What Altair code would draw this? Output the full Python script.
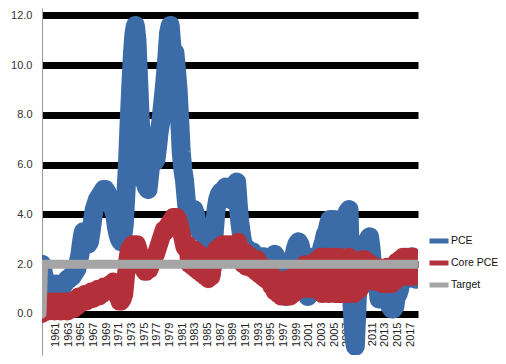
import altair as alt
import pandas as pd

# Quarterly points, starting 1960 Q1 (Jan, Apr, Jul, Oct)
START_YEAR = 1960
pce = [
    2.0, 1.6, 1.4, 1.3,   # 1960
    1.1, 1.0, 1.0, 1.0,   # 1961
    1.1, 1.2, 1.1, 1.1,   # 1962
    1.1, 1.1, 1.2, 1.3,   # 1963
    1.4, 1.4, 1.5, 1.5,   # 1964
    1.6, 1.7, 1.8, 2.1,   # 1965
    2.4, 2.9, 3.3, 3.3,   # 1966
    3.0, 2.8, 2.9, 3.3,   # 1967
    3.8, 4.2, 4.4, 4.6,   # 1968
    4.7, 4.8, 4.9, 5.0,   # 1969
    5.0, 4.9, 4.7, 4.5,   # 1970
    4.4, 4.2, 4.0, 3.5,   # 1971
    3.2, 3.0, 2.9, 3.1,   # 1972
    3.6, 4.8, 6.0, 7.6,   # 1973
    9.0, 10.3, 11.2, 11.6,  # 1974
    11.0, 9.5, 7.9, 6.8,  # 1975
    5.8, 5.3, 5.1, 5.0,   # 1976
    5.6, 6.2, 6.3, 6.1,   # 1977
    6.2, 6.7, 7.3, 7.7,   # 1978
    8.3, 8.9, 9.6, 10.4,  # 1979
    11.3, 11.6, 10.8, 10.3,  # 1980
    10.5, 9.8, 9.0, 7.8,  # 1981
    6.5, 5.8, 5.4, 4.7,   # 1982
    4.0, 3.7, 3.8, 3.9,   # 1983
    4.2, 4.0, 3.6, 3.4,   # 1984
    3.3, 3.4, 3.4, 3.5,   # 1985
    2.8, 2.1, 1.7, 1.6,   # 1986
    2.3, 3.4, 4.2, 4.6,   # 1987
    4.8, 4.9, 4.9, 5.0,   # 1988
    5.1, 5.0, 4.7, 4.6,   # 1989
    4.8, 5.0, 5.2, 5.3,   # 1990
    4.4, 3.7, 3.2, 2.8,   # 1991
    2.7, 2.6, 2.6, 2.5,   # 1992
    2.5, 2.5, 2.3, 2.2,   # 1993
    2.0, 2.1, 2.3, 2.3,   # 1994
    2.3, 2.2, 2.1, 2.0,   # 1995
    2.0, 2.2, 2.3, 2.4,   # 1996
    2.3, 1.9, 1.5, 1.3,   # 1997
    0.9, 0.8, 0.7, 0.8,   # 1998
    1.2, 1.6, 2.0, 2.2,   # 1999
    2.6, 2.8, 2.9, 2.8,   # 2000
    2.5, 2.0, 1.5, 0.9,   # 2001
    0.7, 0.8, 1.3, 1.8,   # 2002
    2.3, 2.0, 2.0, 2.2,   # 2003
    2.4, 2.7, 2.9, 3.2,   # 2004
    3.3, 3.6, 3.8, 3.8,   # 2005
    3.7, 3.8, 3.5, 2.0,   # 2006
    2.0, 2.4, 2.6, 3.6,   # 2007
    3.9, 4.1, 4.2, 1.8,   # 2008
    0.3, -0.8, -1.3, 0.2,  # 2009
    2.0, 1.8, 1.4, 1.2,   # 2010
    1.5, 2.4, 3.0, 3.1,   # 2011
    2.6, 1.8, 1.4, 1.6,   # 2012
    1.2, 0.6, 0.9, 1.0,   # 2013
    1.2, 1.6, 1.6, 1.2,   # 2014
    0.3, 0.2, 0.2, 0.3,   # 2015
    0.8, 0.8, 1.0, 1.5,   # 2016
    2.1, 1.6, 1.4, 1.6,   # 2017
    1.9, 2.2, 2.3, 1.9,   # 2018
    1.4, 1.4,             # 2019
]
core_pce = [
    0.0, 0.5, 0.2, 0.5,   # 1960
    0.1, 0.5, 0.2, 0.5,   # 1961
    0.1, 0.5, 0.3, 0.5,   # 1962
    0.1, 0.5, 0.2, 0.5,   # 1963
    0.1, 0.5, 0.2, 0.5,   # 1964
    0.2, 0.6, 0.3, 0.7,   # 1965
    0.4, 0.7, 0.5, 0.8,   # 1966
    0.5, 0.8, 0.6, 0.9,   # 1967
    0.6, 0.9, 0.7, 1.0,   # 1968
    0.7, 1.0, 0.8, 1.1,   # 1969
    0.9, 1.1, 0.9, 1.2,   # 1970
    1.0, 1.3, 1.0, 1.1,   # 1971
    0.7, 0.5, 0.5, 0.6,   # 1972
    0.8, 1.5, 2.2, 2.6,   # 1973
    2.7, 2.8, 2.7, 2.8,   # 1974
    2.8, 2.6, 2.3, 2.0,   # 1975
    1.8, 1.7, 1.7, 1.8,   # 1976
    1.8, 2.0, 2.1, 2.3,   # 1977
    2.4, 2.6, 2.8, 3.0,   # 1978
    3.2, 3.4, 3.3, 3.5,   # 1979
    3.6, 3.7, 3.8, 3.9,   # 1980
    3.9, 3.9, 3.8, 3.6,   # 1981
    3.3, 3.0, 2.7, 2.6,   # 1982
    2.8, 2.0, 2.6, 1.9,   # 1983
    2.6, 1.8, 2.5, 1.7,   # 1984
    2.4, 1.6, 2.3, 1.5,   # 1985
    2.1, 1.4, 1.8, 1.5,   # 1986
    1.9, 2.3, 2.6, 2.2,   # 1987
    2.7, 2.3, 2.8, 2.2,   # 1988
    2.8, 2.3, 2.8, 2.2,   # 1989
    2.8, 2.3, 2.8, 2.4,   # 1990
    2.9, 2.3, 2.6, 2.0,   # 1991
    2.5, 1.9, 2.4, 1.9,   # 1992
    2.3, 1.8, 2.2, 1.7,   # 1993
    2.2, 1.6, 2.0, 1.5,   # 1994
    1.9, 1.4, 1.8, 1.3,   # 1995
    1.7, 1.1, 1.5, 0.9,   # 1996
    1.4, 0.8, 1.3, 0.7,   # 1997
    1.3, 0.7, 1.4, 0.7,   # 1998
    1.3, 0.7, 1.4, 0.8,   # 1999
    1.6, 0.9, 1.8, 1.0,   # 2000
    1.9, 1.0, 2.0, 1.1,   # 2001
    2.0, 1.0, 2.0, 1.1,   # 2002
    2.1, 1.0, 2.2, 0.9,   # 2003
    2.3, 0.8, 2.3, 0.9,   # 2004
    2.3, 0.8, 2.3, 0.9,   # 2005
    2.3, 0.8, 2.2, 0.8,   # 2006
    2.3, 0.8, 2.2, 0.9,   # 2007
    2.2, 0.8, 2.3, 0.9,   # 2008
    2.2, 0.8, 2.1, 0.9,   # 2009
    2.1, 1.0, 2.2, 1.3,   # 2010
    2.2, 1.4, 2.1, 1.4,   # 2011
    2.0, 1.3, 1.9, 1.3,   # 2012
    1.9, 1.3, 1.8, 1.2,   # 2013
    1.8, 1.2, 1.9, 1.2,   # 2014
    1.9, 1.2, 1.9, 1.3,   # 2015
    2.1, 1.4, 2.2, 1.5,   # 2016
    2.3, 1.5, 2.3, 1.5,   # 2017
    2.3, 1.5, 2.3, 1.5,   # 2018
    2.2, 1.6,             # 2019
]
target = [0.0] + [2.0] * (len(pce) - 1)

series_names = ["PCE", "Core PCE", "Target"]
series_colors = ["#3C6CA8", "#B3303A", "#A5A5A5"]
series_widths = [19, 18, 9]

label_years = list(range(1961, 2018, 2))
y_ticks = [0, 2, 4, 6, 8, 10, 12]
LABEL_SHIFT = 1.15

rows = []
for name, vals in zip(series_names, [pce, core_pce, target]):
    for i, v in enumerate(vals):
        rows.append({"t": START_YEAR + 0.25 * i, "value": v, "series": name})
df = pd.DataFrame(rows)

FONT = "Liberation Sans"

x_enc = alt.X(
    "t:Q",
    scale=alt.Scale(domain=[1960, 2019.4], nice=False, zero=False),
    axis=alt.Axis(
        values=[round(y + LABEL_SHIFT, 2) for y in label_years],
        labelExpr=f"round(datum.value - {LABEL_SHIFT})",
        labelAngle=270,
        labelAlign="right",
        labelBaseline="middle",
        labelPadding=8,
        labelFontSize=11,
        labelFont=FONT,
        labelColor="#222222",
        labelOverlap=False,
        labelFlush=False,
        ticks=False,
        domain=False,
        grid=False,
        offset=-41,
        title=None,
    ),
)
y_enc = alt.Y(
    "value:Q",
    scale=alt.Scale(domain=[-1.65, 12.3], nice=False, zero=False),
    axis=alt.Axis(
        values=y_ticks,
        format=".1f",
        labelFontSize=11,
        labelFont=FONT,
        labelColor="#333333",
        labelPadding=10,
        ticks=False,
        domain=True,
        domainColor="#9a9a9a",
        domainWidth=1,
        grid=True,
        gridColor="#000000",
        gridWidth=7,
        title=None,
    ),
)
color_enc = alt.Color(
    "series:N",
    scale=alt.Scale(domain=series_names, range=series_colors),
    legend=alt.Legend(
        title=None,
        orient="none",
        legendX=385,
        legendY=221,
        symbolType="stroke",
        symbolSize=361,
        symbolStrokeWidth=5,
        labelFont=FONT,
        labelFontSize=10.5,
        labelColor="#111111",
        labelOffset=0,
        rowPadding=-1,
    ),
)

layers = []
for name, w in zip(series_names, series_widths):
    layers.append(
        alt.Chart(df)
        .transform_filter(alt.datum.series == name)
        .mark_line(strokeWidth=w, strokeCap="round", strokeJoin="round", clip=True)
        .encode(x=x_enc, y=y_enc, color=color_enc)
    )

chart = (
    alt.layer(*layers)
    .properties(
        width=376,
        height=347,
        autosize=alt.AutoSizeParams(type="none"),
        padding={"left": 34, "top": 0, "right": 80, "bottom": 1},
        background="white",
    )
    .configure_view(stroke=None)
)

chart.save("out.html", embed_options={"renderer": "svg", "actions": False})
